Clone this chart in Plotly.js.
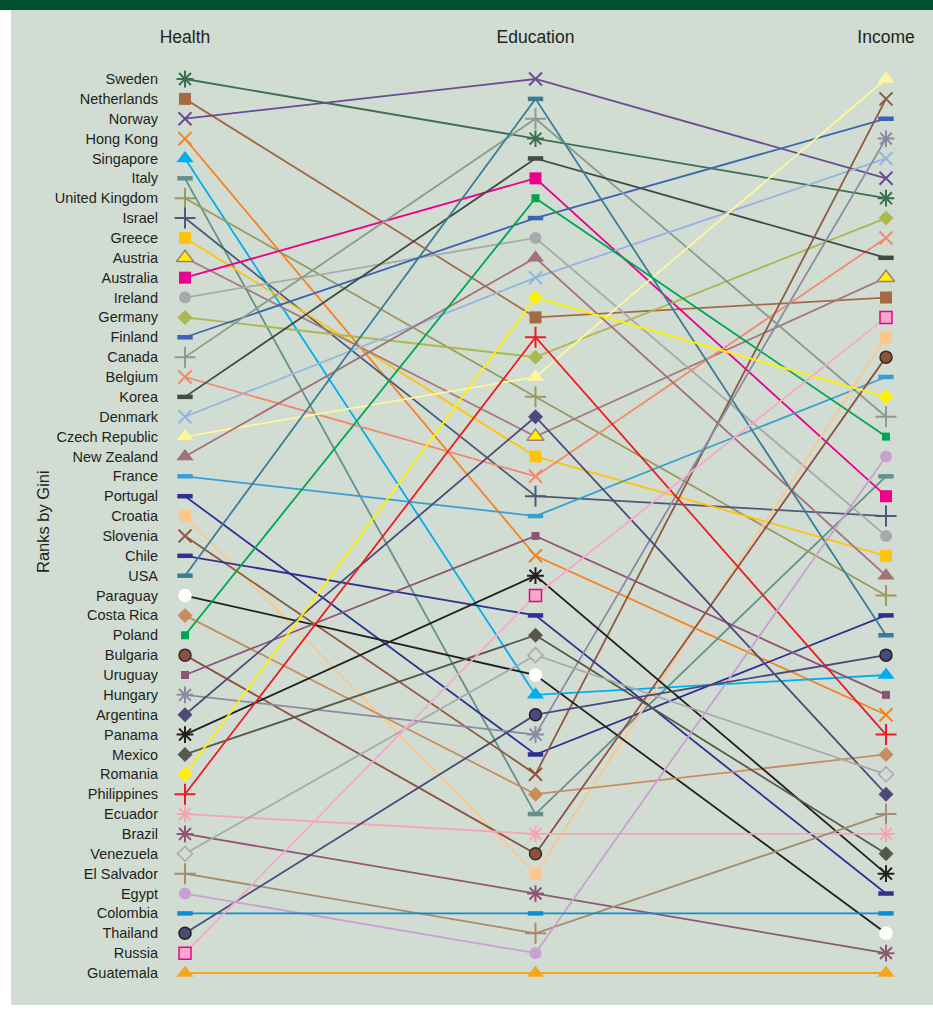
<!DOCTYPE html>
<html><head><meta charset="utf-8">
<script src="https://cdn.plot.ly/plotly-3.0.1.min.js"></script>
<style>html,body{margin:0;padding:0;background:#fff}#chart{width:933px;height:1010px}</style>
</head><body><div id="chart"></div>
<script>
const columns = ['Health', 'Education', 'Income'];
const countries = ['Sweden','Netherlands','Norway','Hong Kong','Singapore','Italy','United Kingdom','Israel','Greece','Austria','Australia','Ireland','Germany','Finland','Canada','Belgium','Korea','Denmark','Czech Republic','New Zealand','France','Portugal','Croatia','Slovenia','Chile','USA','Paraguay','Costa Rica','Poland','Bulgaria','Uruguay','Hungary','Argentina','Panama','Mexico','Romania','Philippines','Ecuador','Brazil','Venezuela','El Salvador','Egypt','Colombia','Thailand','Russia','Guatemala'];
const healthRank = [1,2,3,4,5,6,7,8,9,10,11,12,13,14,15,16,17,18,19,20,21,22,23,24,25,26,27,28,29,30,31,32,33,34,35,36,37,38,39,40,41,42,43,44,45,46];
const educationRank = [4,13,1,25,32,38,17,22,20,19,6,9,15,8,3,21,5,11,16,10,23,35,41,36,28,2,31,37,7,40,24,34,18,26,29,12,14,39,42,30,44,45,43,33,27,46];
const incomeRank = [7,12,6,33,31,21,27,23,25,11,22,24,8,3,18,9,10,5,1,26,16,28,14,2,42,29,44,35,19,15,32,4,37,41,40,17,34,39,45,36,38,20,43,30,13,46];

// styles: [symbol, line colour, marker fill, marker outline]
const styles = [
 ['ast','#3e6e50'],['sq','#a46a45'],['x','#6a4b94'],['x','#f7821f'],['tri','#00aeef'],
 ['dash','#64918c'],['cross','#9b9860'],['cross','#4b5a78'],['sq','#ffc20e'],['tri','#a57a7e','#fff200','#a57a7e'],
 ['sq','#ec008c'],['circ','#a7a9ac'],['dia','#acb84f'],['dash','#3c64b1'],['cross','#8a9c8c'],
 ['x','#f4886c'],['dash','#3f4b45'],['x','#94b4e0'],['tri','#fff59d'],['tri','#a2717a'],
 ['dash','#3a9fd0'],['dash','#2e3192'],['sq','#fdc68c'],['x','#8b5a40'],['dash','#2e3192'],
 ['dash','#3c7d93'],['circ','#231f20','#ffffff','#ffffff'],['dia','#c98c5e'],['sqs','#00a651'],['circ','#8d5140','#8d5140','#3a2a20'],
 ['sqs','#8c5575'],['ast','#8b8aa2'],['dia','#4d4a7a'],['ast','#231f20'],['dia','#58584a'],
 ['dia','#fff200'],['cross','#ed1c24'],['ast','#f6a5b2'],['ast','#8e5576'],['dia','#a7a9ac','#d6d9d6','#a7a9ac'],
 ['cross','#a88b6c'],['circ','#c9a0d2'],['dash','#0a8fd6'],['circ','#4a4a78','#4a4a78','#231f20'],['sq','#f7a8c8','#f7a8c8','#ec008c'],
 ['tri','#f7a51c']
];
const symMap = {
 ast:{s:'asterisk-open',size:14,open:true,w:2},
 x:{s:'x-thin-open',size:13,open:true,w:2},
 cross:{s:'cross-thin-open',size:15,open:true,w:2},
 dash:{s:'line-ew-open',size:11,open:true,w:4.5},
 sq:{s:'square',size:12},
 sqs:{s:'square',size:8},
 tri:{s:'triangle-up',size:15},
 circ:{s:'circle',size:12},
 dia:{s:'diamond',size:11.5}
};

const traces = [];
countries.forEach((c, i) => {
  traces.push({
    x: columns, y: [healthRank[i], educationRank[i], incomeRank[i]],
    mode: 'lines', name: c, hoverinfo: 'skip',
    line: {color: styles[i][1], width: 1.8}, cliponaxis: false, showlegend: false
  });
});
countries.forEach((c, i) => {
  const st = styles[i], m = symMap[st[0]];
  let marker;
  if (m.open) {
    marker = {symbol: m.s, size: m.size, color: st[1], line: {color: st[1], width: m.w}};
  } else {
    const fill = st[2] || st[1], out = st[3] || fill;
    marker = {symbol: m.s, size: m.size, color: fill, line: {color: out, width: st[3] ? 1.5 : 0}};
  }
  traces.push({
    x: columns, y: [healthRank[i], educationRank[i], incomeRank[i]],
    mode: 'markers', name: c, marker: marker, cliponaxis: false, showlegend: false
  });
});

const L = 165, T = 60, W = 933, H = 1010, B = 17, R = 27;
const pw = W - L - R, ph = H - T - B;
const px = v => (v - L) / pw, py = v => (H - B - v) / ph;
const unit = (886 - 185) / 2, pad = (185 - L) / unit;
const ru = (973 - 79) / 45;

const layout = {
  width: W, height: H,
  margin: {l: L, r: R, t: T, b: B},
  paper_bgcolor: 'rgba(0,0,0,0)', plot_bgcolor: 'rgba(0,0,0,0)',
  font: {family: 'Liberation Sans, Arial, sans-serif', color: '#231f20'},
  xaxis: {type: 'category', side: 'top', range: [-pad, 2 + pad], showgrid: false, zeroline: false, showline: false,
          ticks: '', tickfont: {size: 17.5, color: '#231f20'}, ticklabelstandoff: 13, fixedrange: true},
  yaxis: {range: [46 + (H - B - 973) / ru, 1 - (79 - T) / ru], tickvals: healthRank, ticktext: countries,
          showgrid: false, zeroline: false, showline: false, ticks: '', tickfont: {size: 14.5, color: '#231f20'},
          ticklabelstandoff: 6, fixedrange: true},
  shapes: [
    {type: 'rect', xref: 'paper', yref: 'paper', x0: px(11), x1: px(933), y0: py(1005), y1: py(10), fillcolor: '#d1ddd3', line: {width: 0}, layer: 'below'},
    {type: 'rect', xref: 'paper', yref: 'paper', x0: px(0), x1: px(933), y0: py(10), y1: py(0), fillcolor: '#005030', line: {width: 0}, layer: 'below'}
  ],
  annotations: [
    {text: 'Ranks by Gini', xref: 'paper', yref: 'paper', x: px(43), y: py(522), textangle: -90, showarrow: false,
     font: {size: 16.5, color: '#231f20'}, xanchor: 'center', yanchor: 'middle'}
  ]
};
Plotly.newPlot('chart', traces, layout, {displayModeBar: false, staticPlot: true});
</script></body></html>
